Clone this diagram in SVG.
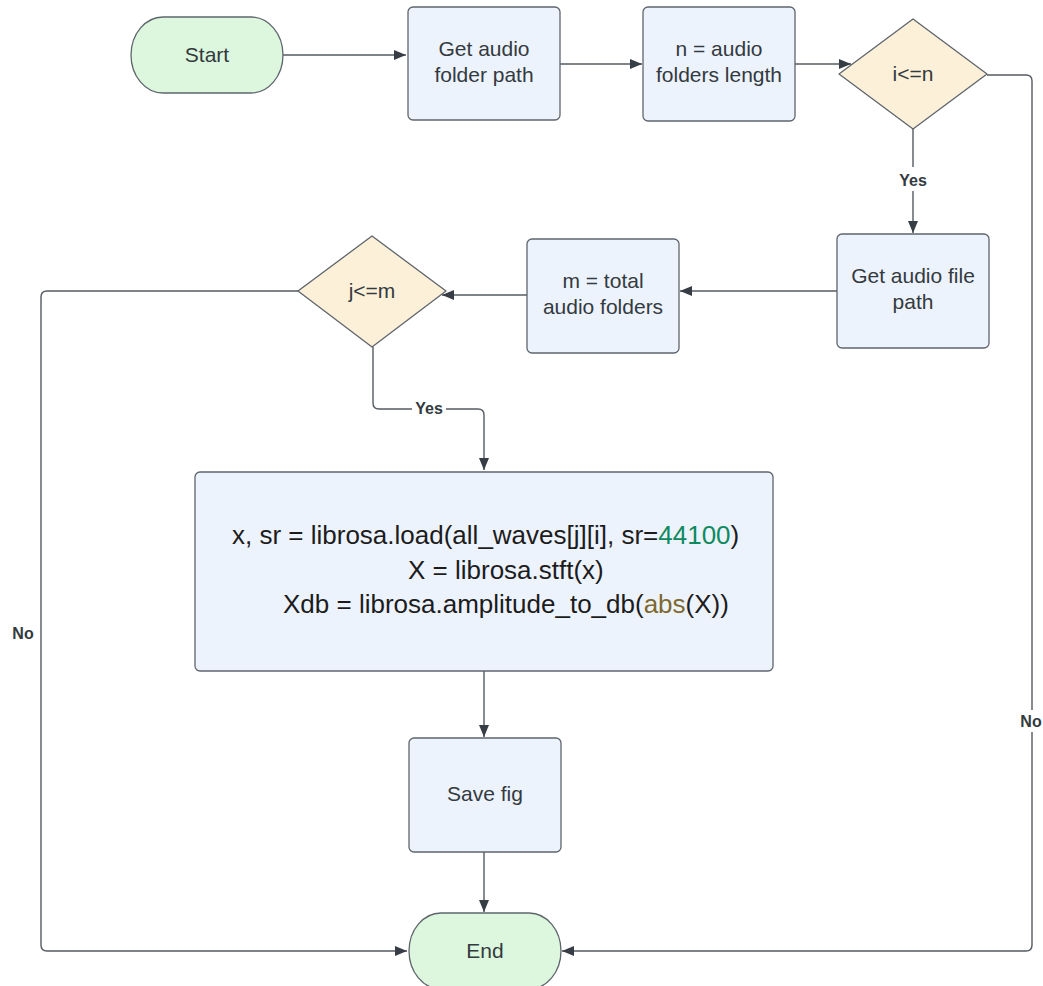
<svg xmlns="http://www.w3.org/2000/svg" width="1043" height="986" viewBox="0 0 1043 986">
  <style>
    .proc { fill: #edf3fc; stroke: #5f656d; stroke-width: 1.3; }
    .term { fill: #dcf7dd; stroke: #5f656d; stroke-width: 1.3; }
    .dec { fill: #fcf0d8; stroke: #5f656d; stroke-width: 1.3; }
    .lbl { font-family: "Liberation Sans", Arial, sans-serif; font-size: 21px; fill: #333a40; text-anchor: middle; }
    .code { font-family: "Liberation Sans", Arial, sans-serif; font-size: 26px; fill: #1c1c1c; }
    .num { fill: #0e8a60; }
    .fn { fill: #7d6830; }
    .edge { fill: none; stroke: #555b62; stroke-width: 1.4; }
    .elbl { font-family: "Liberation Sans", Arial, sans-serif; font-size: 16px; font-weight: bold; fill: #333a40; text-anchor: middle; }
  </style>
  <defs>
    <marker id="arrow" markerUnits="userSpaceOnUse" markerWidth="13" markerHeight="10" refX="12" refY="5" orient="auto">
      <path d="M0,0 L12,5 L0,10 z" fill="#363d45"/>
    </marker>
  </defs>

  <rect width="1043" height="986" fill="#ffffff"/>

  <!-- connectors -->
  <g id="connectors">
    <path class="edge" d="M283,55 H406" marker-end="url(#arrow)"/>
    <path class="edge" d="M560,64 H642" marker-end="url(#arrow)"/>
    <path class="edge" d="M795,64 H851" marker-end="url(#arrow)"/>
    <path class="edge" d="M913,129 V233" marker-end="url(#arrow)"/>
    <path class="edge" d="M987,75 H1026 Q1032,75 1032,81 V945 Q1032,951 1026,951 H562" marker-end="url(#arrow)"/>
    <path class="edge" d="M837,291 H680" marker-end="url(#arrow)"/>
    <path class="edge" d="M527,295 H442" marker-end="url(#arrow)"/>
    <path class="edge" d="M298,291 H47 Q41,291 41,297 V945 Q41,951 47,951 H407" marker-end="url(#arrow)"/>
    <path class="edge" d="M373,347 V403 Q373,409 379,409 H478 Q484,409 484,415 V470" marker-end="url(#arrow)"/>
    <path class="edge" d="M484,671 V737" marker-end="url(#arrow)"/>
    <path class="edge" d="M484,852 V912" marker-end="url(#arrow)"/>
    <!-- edge labels -->
    <rect x="896" y="167" width="34" height="24" fill="#ffffff"/>
    <text class="elbl" x="913" y="186">Yes</text>
    <rect x="412" y="398" width="34" height="22" fill="#ffffff"/>
    <text class="elbl" x="429" y="414">Yes</text>
    <rect x="10" y="622" width="26" height="22" fill="#ffffff"/>
    <text class="elbl" x="23" y="639">No</text>
    <rect x="1019" y="710" width="24" height="22" fill="#ffffff"/>
    <text class="elbl" x="1031" y="727">No</text>
  </g>

  <g id="start">
    <rect class="term" x="131" y="17" width="152" height="76" rx="32" ry="38"/>
    <text class="lbl" x="207" y="62">Start</text>
  </g>

  <g id="get-folder-path">
    <rect class="proc" x="408" y="7" width="152" height="113" rx="5"/>
    <text class="lbl" x="484" y="56">Get audio</text>
    <text class="lbl" x="484" y="82">folder path</text>
  </g>

  <g id="folders-length">
    <rect class="proc" x="643" y="7" width="152" height="114" rx="5"/>
    <text class="lbl" x="719" y="56">n = audio</text>
    <text class="lbl" x="719" y="82">folders length</text>
  </g>

  <g id="check-i">
    <path class="dec" d="M913,19 L987,74 L913,129 L839,74 Z" stroke-linejoin="round"/>
    <text class="lbl" x="913" y="81">i&lt;=n</text>
  </g>

  <g id="get-file-path">
    <rect class="proc" x="837" y="234" width="152" height="114" rx="5"/>
    <text class="lbl" x="913" y="283">Get audio file</text>
    <text class="lbl" x="913" y="309">path</text>
  </g>

  <g id="total-folders">
    <rect class="proc" x="527" y="239" width="152" height="114" rx="5"/>
    <text class="lbl" x="603" y="288">m = total</text>
    <text class="lbl" x="603" y="314">audio folders</text>
  </g>

  <g id="check-j">
    <path class="dec" d="M372,236 L446,291 L372,347 L298,291 Z" stroke-linejoin="round"/>
    <text class="lbl" x="372" y="298">j&lt;=m</text>
  </g>

  <g id="spectrogram">
    <rect class="proc" x="195" y="472" width="578" height="199" rx="5"/>
    <text class="code" x="232" y="544">x, sr = librosa.load(all_waves[j][i], sr=<tspan class="num">44100</tspan>)</text>
    <text class="code" x="408" y="579">X = librosa.stft(x)</text>
    <text class="code" x="283" y="613">Xdb = librosa.amplitude_to_db(<tspan class="fn">abs</tspan>(X))</text>
  </g>

  <g id="save-fig">
    <rect class="proc" x="409" y="738" width="152" height="114" rx="5"/>
    <text class="lbl" x="485" y="801">Save fig</text>
  </g>

  <g id="end">
    <rect class="term" x="409" y="913" width="152" height="76" rx="32" ry="38"/>
    <text class="lbl" x="485" y="958">End</text>
  </g>
</svg>
